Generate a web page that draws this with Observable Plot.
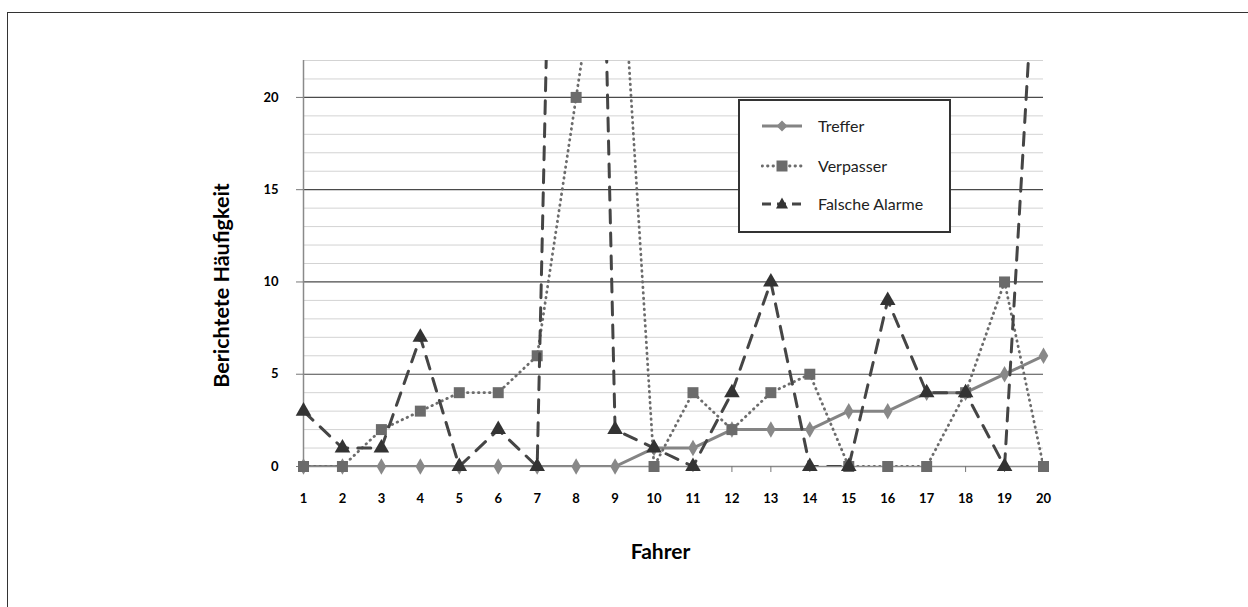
<!DOCTYPE html>
<html>
<head>
<meta charset="utf-8">
<script src="https://cdn.jsdelivr.net/npm/d3@7"></script>
<script src="https://cdn.jsdelivr.net/npm/@observablehq/plot@0.6"></script>
<style>
  html, body { margin: 0; padding: 0; background: #fff; overflow: hidden; }
  #wrap { position: relative; width: 1248px; height: 607px; }
  #frame { position: absolute; left: 7px; top: 12px; width: 1400px; height: 800px;
           border-left: 1.5px solid #333; border-top: 1.5px solid #333; }
  #chart { position: absolute; left: 0; top: 0; }
  #legend { position: absolute; left: 738px; top: 99px; width: 209px; height: 130px;
            border: 2px solid #333; background: #fff; font-family: Lato, sans-serif; font-size: 16px; color: #222; }
  .entry { position: absolute; left: 0; height: 20px; width: 100%; }
  .entry svg { position: absolute; left: 21px; top: 0; }
  .entry span { position: absolute; left: 78px; top: 0px; }
</style>
</head>
<body>
<div id="wrap">
  <div id="frame"></div>
  <div id="chart"></div>
  <div id="legend"></div>
</div>
<script>
// ---- data ----
const fahrer = [1,2,3,4,5,6,7,8,9,10,11,12,13,14,15,16,17,18,19,20];
const treffer = [0,0,0,0,0,0,0,0,0,1,1,2,2,2,3,3,4,4,5,6];
const verpasser = [0,0,2,3,4,4,6,20,34,0,4,2,4,5,0,0,0,4,10,0];
const falscheAlarme = [3,1,1,7,0,2,0,95,2,1,0,4,10,0,0,9,4,4,0,36];
const seriesNames = ["Treffer", "Verpasser", "Falsche Alarme"];
const majorTicks = [0,5,10,15,20];
const minorTicks = [1,2,3,4,6,7,8,9,11,12,13,14,16,17,18,19,21,22];
const yMax = 22;

const rows = (vals) => fahrer.map((f, i) => ({f, v: vals[i]}));
const tRows = rows(treffer), vRows = rows(verpasser), aRows = rows(falscheAlarme);
const inView = (r) => r.filter(d => d.v <= yMax);

const styles = {
  "Treffer": {line: {stroke: "#848484", strokeWidth: 3}, symbol: "diamond", r: 5, fill: "#888888"},
  "Verpasser": {line: {stroke: "#6c6c6c", strokeWidth: 2.8, strokeDasharray: "0.5 5", strokeLinecap: "round"}, symbol: "square", r: 6.2, fill: "#6b6b6b"},
  "Falsche Alarme": {line: {stroke: "#454545", strokeWidth: 3, strokeDasharray: "13 10"}, symbol: "triangle", r: 5.8, fill: "#333333"}
};

const chart = Plot.plot({
  width: 1248, height: 607,
  marginLeft: 303, marginRight: 205, marginTop: 60, marginBottom: 141,
  style: {fontFamily: "Lato, sans-serif", fontSize: "13px", fontWeight: "bold", background: "transparent", color: "#000"},
  x: {domain: [1, 20]},
  y: {domain: [0, yMax]},
  marks: [
    Plot.ruleY(minorTicks, {stroke: "#d3d3d3", strokeWidth: 1}),
    Plot.ruleY(majorTicks.filter(d => d > 0), {stroke: "#4a4a4a", strokeWidth: 1.2}),
    Plot.ruleY([0], {stroke: "#8a8a8a", strokeWidth: 1.5}),
    Plot.ruleX([1], {stroke: "#8a8a8a", strokeWidth: 1.5}),
    Plot.axisY({ticks: majorTicks, tickSize: 7, tickPadding: 18, stroke: "#777", fill: "#000",
      tickFormat: d => String(d), fontSize: 13, label: null}),
    Plot.axisX({ticks: fahrer, tickSize: 6, tickPadding: 21, stroke: "#777", fill: "#000",
      tickFormat: d => String(d), fontSize: 13, label: null}),
    Plot.text(["Berichtete Häufigkeit"], {frameAnchor: "left", dx: -81, dy: 22, rotate: -90,
      fontSize: 21.5, fontWeight: "bold", lineAnchor: "middle", textAnchor: "middle", fill: "#000"}),
    Plot.text(["Fahrer"], {frameAnchor: "bottom", dx: -13, dy: 86, fontSize: 21, fontWeight: "bold",
      lineAnchor: "middle", textAnchor: "middle", fill: "#000"}),
    // Treffer
    Plot.line(tRows, {x: "f", y: "v", ...styles["Treffer"].line, clip: true}),
    Plot.dot(inView(tRows), {x: "f", y: "v", symbol: () => styles["Treffer"].symbol, r: styles["Treffer"].r, fill: styles["Treffer"].fill}),
    // Verpasser
    Plot.line(vRows, {x: "f", y: "v", ...styles["Verpasser"].line, clip: true}),
    Plot.dot(inView(vRows), {x: "f", y: "v", symbol: () => styles["Verpasser"].symbol, r: styles["Verpasser"].r, fill: styles["Verpasser"].fill}),
    // Falsche Alarme
    Plot.line(aRows, {x: "f", y: "v", ...styles["Falsche Alarme"].line, clip: true}),
    Plot.dot(inView(aRows), {x: "f", y: "v", symbol: () => styles["Falsche Alarme"].symbol, r: styles["Falsche Alarme"].r, fill: styles["Falsche Alarme"].fill})
  ]
});
document.getElementById("chart").appendChild(chart);

// ---- legend ----
const legend = document.getElementById("legend");
const legendTops = [15, 55, 93];
const symbolPath = {
  "diamond": "M0,-5.5L5.5,0L0,5.5L-5.5,0Z",
  "square": "M-5.5,-5.5H5.5V5.5H-5.5Z",
  "triangle": "M0,-6.5L6,4.5H-6Z"
};
seriesNames.forEach((name, i) => {
  const s = styles[name];
  const e = document.createElement("div");
  e.className = "entry";
  e.style.top = legendTops[i] + "px";
  const dash = s.line.strokeDasharray ? (name === "Verpasser" ? "0.5 5" : "9 6") : "";
  e.innerHTML = `<svg width="42" height="20" viewBox="0 0 42 20">
     <line x1="1" x2="41" y1="10" y2="10" stroke="${s.line.stroke}" stroke-width="${s.line.strokeWidth}"
       ${dash ? `stroke-dasharray="${dash}"` : ""} ${s.line.strokeLinecap ? `stroke-linecap="round"` : ""}></line>
     <path transform="translate(21,10)" d="${symbolPath[s.symbol]}" fill="${s.fill}"></path>
   </svg><span>${name}</span>`;
  legend.appendChild(e);
});
</script>
</body>
</html>
